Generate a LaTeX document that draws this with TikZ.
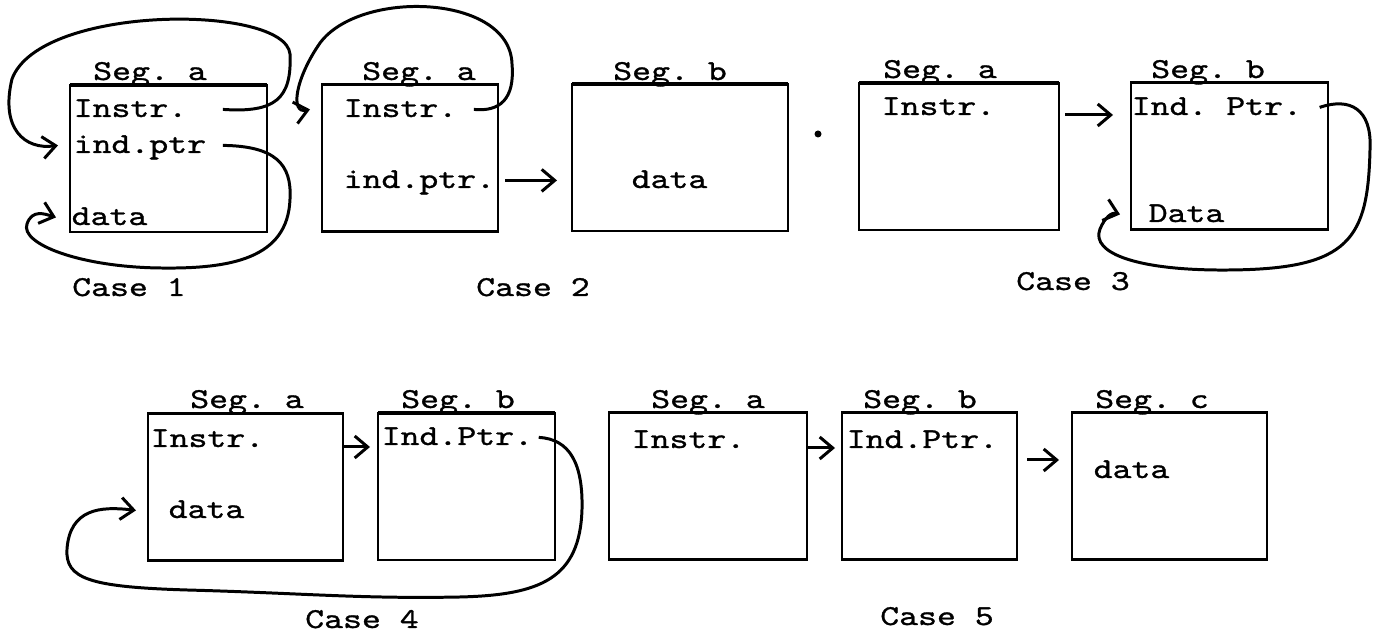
\documentclass[tikz,border=0pt]{standalone}
\usepackage{fontspec}
\setmonofont{lmmono10-regular.otf}[FakeStretch=1.25, FakeBold=1]
\usetikzlibrary{arrows.meta, positioning, calc}

\begin{document}
\begin{tikzpicture}[
	font=\ttfamily\fontsize{8.2pt}{10pt}\selectfont,
	seg/.style={draw, line width=0.6pt, inner sep=0pt, outer sep=0pt, minimum height=1.47cm},
	lid/.style={line width=0.9pt},
	txt/.style={anchor=base west, inner sep=0pt},
	lbl/.style={anchor=base, inner sep=0pt},
	arr/.style={line width=0.85pt, -{Straight Barb[length=1.3mm, width=2.2mm]}}
	]
	
	\useasboundingbox (0,0) rectangle (13.81,6.39);
	
	% ----- Case 1 -----
	\node[seg, minimum width=1.97cm] (b1) at (1.685,4.805) {};
	\draw[lid] (b1.north west) -- (b1.north east);
	\node[lbl] (s1) at (1.50,5.59) {Seg. a};
	\node[txt] (i1) at (0.73,5.22) {Instr.};
	\node[txt] (ip1) at (0.73,4.86) {ind.ptr};
	\node[txt] (d1) at (0.71,4.14) {data};
	\node[lbl] (c1) at (1.29,3.43) {Case 1};
	
	% Instr. loops back to ind.ptr
	\draw[arr] ([xshift=3.5mm]i1.mid east) .. controls (2.75,5.26) and (2.92,5.4) .. (2.9,5.85)
		.. controls (2.85,6.35) and (0.4,6.35) .. (0.12,5.6)
		.. controls (0.0,5.1) and (0.25,4.89) .. ([xshift=-1.5mm]ip1.mid west);
	% ind.ptr loops back to data
	\draw[arr] ([xshift=1.6mm]ip1.mid east) .. controls (2.75,4.93) and (2.92,4.75) .. (2.9,4.4)
		.. controls (2.88,3.8) and (2.3,3.7) .. (1.6,3.71)
		.. controls (0.8,3.72) and (0.2,3.95) .. (0.27,4.15)
		.. controls (0.32,4.3) and (0.45,4.25) .. ([xshift=-1.5mm]d1.mid west);
	
	% ----- Case 2 -----
	\node[seg, minimum width=1.76cm] (b2) at (4.10,4.81) {};
	\draw[lid] (b2.north west) -- (b2.north east);
	\node[lbl] (s2) at (4.19,5.59) {Seg. a};
	\node[txt] (i2) at (3.43,5.22) {Instr.};
	\node[txt] (ip2) at (3.43,4.51) {ind.ptr.};
	
	\node[seg, minimum width=2.16cm] (b3) at (6.80,4.815) {};
	\draw[lid] (b3.north west) -- (b3.north east);
	\node[lbl] (s3) at (6.70,5.59) {Seg. b};
	\node[txt] (d3) at (6.31,4.51) {data};
	\node[lbl] (c2) at (5.33,3.43) {Case 2};
	
	\draw[arr] ([xshift=1.6mm]i2.mid east) .. controls (5.0,5.27) and (5.15,5.4) .. (5.12,5.75)
		.. controls (5.1,6.45) and (3.6,6.5) .. (3.2,5.96)
		.. controls (2.95,5.6) and (2.9,5.25) .. ([xshift=-3.3mm]i2.mid west);
	\draw[arr, shorten <=0.7mm, shorten >=1.5mm] (b2.east |- ip2.mid) -- (b3.west |- ip2.mid);
	
	\fill (8.18,5.05) circle (0.035);
	
	% ----- Case 3 -----
	\node[seg, minimum width=2.00cm] (b4) at (9.59,4.825) {};
	\draw[lid] (b4.north west) -- (b4.north east);
	\node[lbl] (s4) at (9.40,5.61) {Seg. a};
	\node[txt] (i4) at (8.81,5.24) {Instr.};
	
	\node[seg, minimum width=1.97cm] (b5) at (12.295,4.83) {};
	\draw[lid] (b5.north west) -- (b5.north east);
	\node[lbl] (s5) at (12.08,5.61) {Seg. b};
	\node[txt] (ip5) at (11.31,5.24) {Ind. Ptr.};
	\node[txt] (d5) at (11.48,4.17) {Data};
	\node[lbl] (c3) at (10.73,3.49) {Case 3};
	
	\draw[arr, shorten <=0.6mm, shorten >=1.8mm] (b4.east |- i4.base) -- (b5.west |- i4.base);
	\draw[arr] ([xshift=1.7mm]ip5.mid east) .. controls (13.5,5.42) and (13.72,5.3) .. (13.7,4.9)
		.. controls (13.68,4.0) and (13.5,3.7) .. (12.3,3.69)
		.. controls (11.4,3.68) and (10.9,3.85) .. (11.0,4.1)
		.. controls (11.05,4.22) and (11.12,4.27) .. ([xshift=-2.8mm]d5.mid west);
	
	% ----- Case 4 -----
	\node[seg, minimum width=1.95cm] (b6) at (2.455,1.52) {};
	\draw[lid] (b6.north west) -- (b6.north east);
	\node[lbl] (s6) at (2.47,2.31) {Seg. a};
	\node[txt] (i6) at (1.50,1.92) {Instr.};
	\node[txt] (d6) at (1.68,1.21) {data};
	
	\node[seg, minimum width=1.77cm] (b7) at (4.665,1.525) {};
	\draw[lid] (b7.north west) -- (b7.north east);
	\node[lbl] (s7) at (4.58,2.31) {Seg. b};
	\node[txt] (ip7) at (3.81,1.94) {Ind.Ptr.};
	\node[lbl] (c4) at (3.62,0.11) {Case 4};
	
	\draw[arr, shorten >=0.8mm] (b6.east |- i6.base) -- (b7.west |- i6.base);
	\draw[arr] ([xshift=0.5mm]ip7.mid east) .. controls (5.7,2.0) and (5.83,1.75) .. (5.82,1.3)
		.. controls (5.8,0.6) and (5.4,0.44) .. (4.6,0.42)
		.. controls (3.6,0.4) and (3.0,0.46) .. (1.87,0.49)
		.. controls (0.9,0.52) and (0.65,0.6) .. (0.67,0.9)
		.. controls (0.7,1.3) and (1.0,1.33) .. ([xshift=-3.2mm]d6.mid west);
	
	% ----- Case 5 -----
	\node[seg, minimum width=1.98cm] (b8) at (7.08,1.53) {};
	\draw[lid] (b8.north west) -- (b8.north east);
	\node[lbl] (s8) at (7.08,2.31) {Seg. a};
	\node[txt] (i8) at (6.31,1.91) {Instr.};
	
	\node[seg, minimum width=1.75cm] (b9) at (9.295,1.53) {};
	\draw[lid] (b9.north west) -- (b9.north east);
	\node[lbl] (s9) at (9.20,2.31) {Seg. b};
	\node[txt] (ip9) at (8.46,1.91) {Ind.Ptr.};
	
	\node[seg, minimum width=1.95cm] (b10) at (11.695,1.53) {};
	\draw[lid] (b10.north west) -- (b10.north east);
	\node[lbl] (s10) at (11.52,2.31) {Seg. c};
	\node[txt] (d10) at (10.93,1.61) {data};
	\node[lbl] (c5) at (9.37,0.14) {Case 5};
	
	\draw[arr, shorten <=0.1mm, shorten >=0.7mm] (b8.east |- i8.base) -- (b9.west |- i8.base);
	\draw[arr, shorten <=1mm, shorten >=1.3mm] ([yshift=2.6mm]b9.east) -- ([yshift=2.6mm]b10.west);
	
\end{tikzpicture}
\end{document}
